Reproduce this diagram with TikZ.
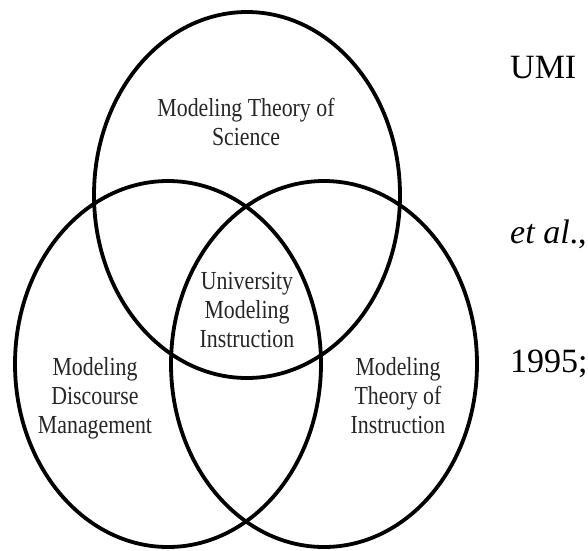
\documentclass[tikz,border=0pt]{standalone}
\usepackage{fontspec}
\setmainfont{Liberation Serif}
\newfontfamily\lblfont[FakeStretch=0.84]{Liberation Serif}
\usetikzlibrary{shapes.geometric}
\definecolor{lblgray}{gray}{0.15}
\begin{document}
\begin{tikzpicture}[x=1pt,y=-1pt,
  ring/.style={draw=black, line width=3.8pt, ellipse, inner sep=0pt,
    minimum width=306pt, minimum height=366pt},
  lbl/.style={font=\lblfont\fontsize{26}{29}\selectfont, text=lblgray,
    align=center, inner sep=0pt, anchor=base},
  side/.style={font=\fontsize{34}{40}\selectfont, inner sep=0pt, anchor=base west}]
\useasboundingbox (0,0) rectangle (588,550);
\node[ring] (science) at (247,195) {};
\node[ring] (discourse) at (168,364) {};
\node[ring] (instruction) at (324,364) {};
\node[lbl] (tsci) at (246,145) {Modeling Theory of\\Science};
\node[lbl] (tumi) at (247,347) {University\\Modeling\\Instruction};
\node[lbl] (tdis) at (95,433) {Modeling\\Discourse\\Management};
\node[lbl] (tins) at (398,433) {Modeling\\Theory of\\Instruction};
\node[side] (umi) at (510,78) {UMI};
\node[side] (etal) at (510,243) {\textit{et al}.,};
\node[side] (yr) at (510,372) {1995;};
\end{tikzpicture}
\end{document}
